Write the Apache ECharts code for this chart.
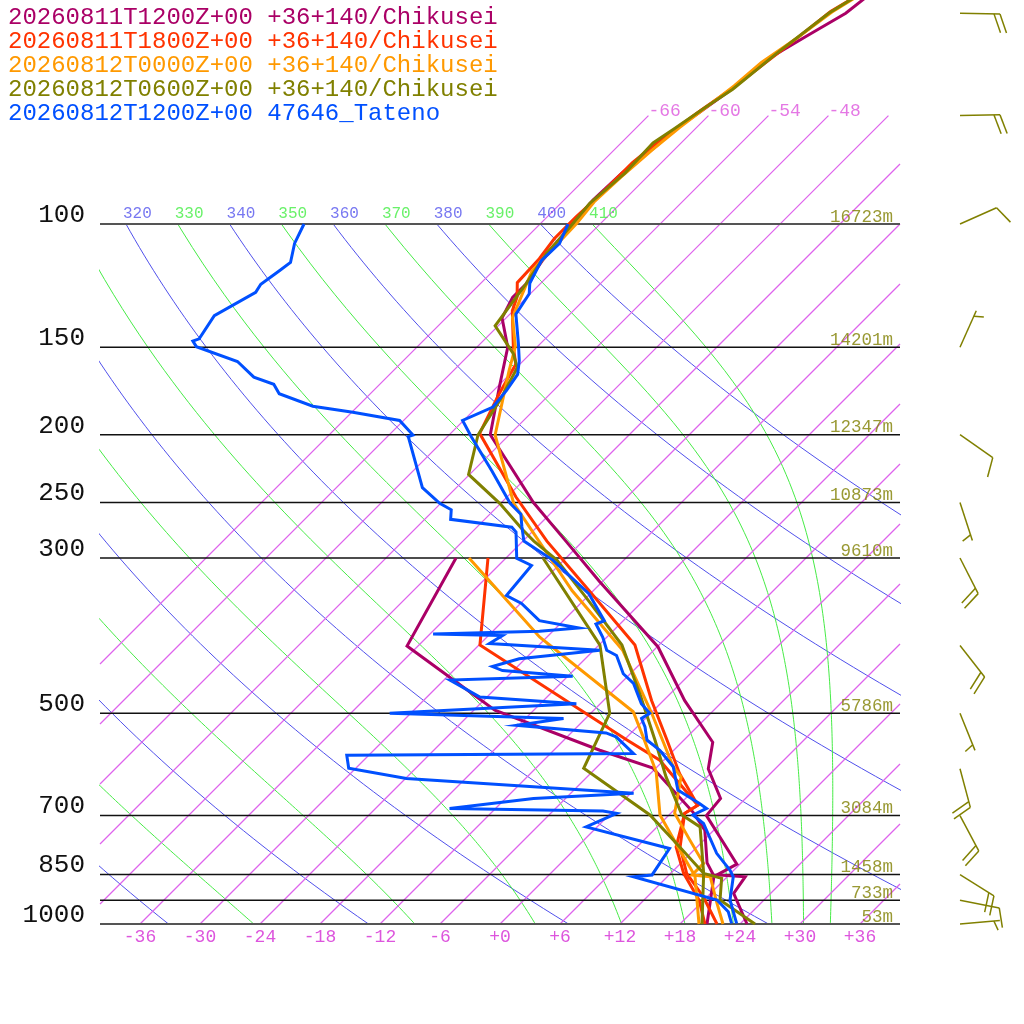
<!DOCTYPE html>
<html><head><meta charset="utf-8">
<script src="https://cdn.jsdelivr.net/npm/echarts@6/dist/echarts.min.js"></script>
<style>html,body{margin:0;padding:0;background:#fff}#c{width:1024px;height:1024px}</style>
</head><body><div id="c"></div>
<script>
const FONT = "'Liberation Mono', 'DejaVu Sans Mono', monospace";

// ---- legend / runs ----
const runLabels = [
  '20260811T1200Z+00 +36+140/Chikusei',
  '20260811T1800Z+00 +36+140/Chikusei',
  '20260812T0000Z+00 +36+140/Chikusei',
  '20260812T0600Z+00 +36+140/Chikusei',
  '20260812T1200Z+00 47646_Tateno'
];
const runColors = ['#aa0066', '#ff3300', '#ff9900', '#808000', '#0050ff'];

// ---- axes / background ----
const isobarLevels = [100, 150, 200, 250, 300, 500, 700, 850, 925, 1000];
const isobarHeights = ['16723m', '14201m', '12347m', '10873m', '9610m', '5786m', '3084m', '1458m', '733m', '53m'];
const xTickLabels = [-36, -30, -24, -18, -12, -6, 0, 6, 12, 18, 24, 30, 36];
const isotherms = [-66, -60, -54, -48, -42, -36, -30, -24, -18, -12, -6, 0, 6, 12, 18, 24, 30, 36];
const labeledIsotherms = [-66, -60, -54, -48];
const dryThetas = [240, 260, 280, 300, 320, 340, 360, 380, 400];
const moistThetas = [250, 270, 290, 310, 330, 350, 370, 390, 410];
const adiabatLabels = [320, 330, 340, 350, 360, 370, 380, 390, 400, 410];

// ---- soundings (pressure hPa, temperature degC) ----
const a_T_p = [40, 50, 53.3, 56.4, 58.8, 64.1, 69.2, 73, 77.7, 84.6, 92.4, 100, 112.8, 121.8, 127.3, 136.2, 150, 171.4, 200, 250, 283.8, 323.5, 402, 479.3, 550, 600, 661.7, 700, 821.2, 851, 856, 904, 1000];
const a_T   = [-54.7, -56.5, -57.9, -59.1, -59.9, -60.3, -61.2, -61.9, -62.2, -62.9, -63.1, -62.8, -62.1, -61.4, -61.4, -60.4, -56.9, -53.7, -49.9, -38.8, -31.7, -24.4, -11.9, -3.9, 3.1, 5.3, 9.5, 9.8, 17.7, 16.8, 19.8, 20.3, 24.7];
const a_Td_p = [300, 400.7, 494.9, 564.6, 598.7, 692, 734.5, 818, 854, 1000];
const a_Td   = [-41.0, -37.1, -21.9, -7.4, -0.3, 8.1, 11.1, 14.6, 16.6, 20.7];

const b_T_p = [40, 49.7, 55.8, 63.9, 68.9, 76, 81.7, 91, 97.7, 104.9, 112.1, 121.3, 127.1, 133, 149.7, 158.6, 174.8, 199.1, 245.5, 283.8, 334.2, 399.5, 479.3, 546, 609.5, 676.5, 694.9, 775.9, 846.5, 914.2, 1000];
const b_T   = [-53.6, -58.2, -59.1, -60.3, -61.3, -62.4, -62.9, -62.9, -63.1, -63.1, -62.6, -62.4, -61.0, -60.1, -56.4, -54.4, -53.1, -51.1, -41.1, -33.6, -24.4, -14.4, -7.2, -1.7, 2.9, 7.9, 7.4, 10.3, 13.6, 17.6, 21.7];
const b_Td_p = [300, 399.5, 546, 583.5, 676.5, 694.9, 776, 846.5, 924, 1000];
const b_Td   = [-37.8, -29.9, -5.7, -0.4, 7.9, 7.4, 9.9, 13.3, 17.5, 20.5];

const c_T_p = [40, 49.8, 54.3, 58.8, 63.5, 69.2, 72.8, 78.4, 85.7, 93, 99.8, 116.7, 136, 149.7, 162.2, 200.1, 250.6, 283.8, 334.2, 406.4, 500, 596.2, 616.5, 694.9, 758.9, 819.3, 851, 856, 924, 1000];
const c_T   = [-53.9, -58.0, -58.9, -60.0, -60.4, -61.2, -61.7, -62.2, -62.6, -62.8, -62.4, -62.1, -59.4, -56.2, -54.4, -49.4, -40.7, -34.4, -26.1, -15.1, -5.9, 1.6, 3.4, 6.4, 10.6, 14.3, 14.3, 16.3, 19.2, 22.3];
const c_Td_p = [300, 389.3, 497.5, 540.3, 606.2, 698.7, 784.3, 854, 1000];
const c_Td   = [-39.7, -24.7, -7.9, -4.4, 0.4, 5.1, 10.6, 14.7, 19.9];

const d_T_p = [40, 50, 57.1, 64.2, 68.0, 73.1, 76.6, 84.5, 93.4, 100.9, 110.2, 121.9, 139.8, 153.2, 160.5, 178.4, 200.2, 227.9, 250.6, 273.2, 283.8, 302.1, 341.3, 399.5, 474.1, 546, 616.5, 698.7, 726.6, 846.5, 860.6, 924, 1000];
const d_T   = [-54.0, -58.2, -59.4, -60.2, -61.1, -62.1, -62.8, -62.6, -63.1, -62.7, -62.4, -61.4, -60.3, -55.7, -53.9, -52.4, -51.1, -48.1, -42.1, -37.2, -34.9, -30.7, -24.1, -15.7, -8.6, -2.9, 1.9, 7.3, 10.3, 15.3, 17.6, 19.6, 25.5];
const d_Td_p = [300, 399.5, 500, 599.2, 698.7, 767.3, 846.5, 1000];
const d_Td   = [-32.3, -17.9, -10.1, -7.2, 4.1, 9.6, 15.3, 20.2];

const e_T_p = [100, 106.6, 112.8, 121.5, 125.8, 134.5, 148.2, 156.8, 164, 173, 182.6, 190.8, 201.3, 225.4, 250.4, 259.7, 270.2, 283.8, 302.1, 337.7, 368.7, 372.8, 389.3, 406.4, 413.4, 439, 453.3, 484.4, 500, 508.6, 523.1, 546, 564.6, 596.2, 643.8, 672.8, 683.8, 698.7, 718.4, 792.6, 837.5, 856, 924, 998];
const e_T   = [-63.2, -62.1, -62.2, -61.1, -60.1, -59.4, -56.2, -54.4, -53.2, -52.7, -52.4, -54.1, -51.6, -46.1, -41.1, -38.9, -37.6, -35.9, -31.1, -24.1, -19.9, -20.4, -18.4, -16.7, -15.2, -12.7, -10.7, -7.9, -6.1, -6.4, -5.2, -3.7, -1.4, 1.6, 4.4, 7.9, 9.1, 8.4, 10.3, 14.6, 17.6, 18.6, 20.6, 23.6];
const e_Td_p = [100, 106.6, 113.5, 116.7, 121.9, 125.2, 135.2, 145.9, 147, 149.7, 157.2, 165.5, 169.4, 174.8, 182.1, 185.7, 190.8, 200.2, 201.3, 238, 250.6, 256, 264.2, 271.1, 275.4, 300.3, 307.5, 339.5, 348.4, 368.7, 377.7, 381.9, 385.1, 387.2, 397.4, 406.4, 418, 428.8, 434.4, 442.7, 448.3, 474.1, 484.4, 500, 508.6, 520.2, 533.4, 540.3, 570.8, 574, 599.2, 619.8, 650.7, 661.7, 683.8, 689.8, 694.9, 726.6, 780, 851, 856, 924, 960.4, 998];
const e_Td   = [-89.6, -88.6, -87.1, -87.4, -87.9, -87.6, -89.4, -88.6, -89.0, -88.1, -82.5, -79.3, -76.6, -75.1, -70.5, -65.9, -60.4, -57.6, -57.9, -51.4, -48.1, -46.3, -45.4, -38.5, -37.6, -34.9, -32.7, -32.2, -29.9, -26.4, -21.7, -25.3, -35.7, -28.6, -29.1, -17.4, -24.6, -26.5, -25.1, -17.5, -29.4, -24.7, -14.4, -32.1, -14.2, -18.2, -8.5, -7.1, -3.7, -32.2, -30.7, -23.9, 0.3, -9.2, -16.6, -1.0, 0.6, -1.1, 9.4, 10.3, 8.6, 19.3, 21.6, 23.1];

// ---- winds (olive barbs, knots) ----
const windP   = [50, 70, 100, 150, 200, 250, 300, 400, 500, 600, 700, 850, 925, 1000];
const windDir = [91, 89, 66, 24, 125, 162, 153, 142, 158, 165, 152, 122, 101, 85];
const windSpd = [20, 20, 10, 5, 10, 5, 20, 20, 5, 20, 20, 20, 10, 5];

// ---- geometry helpers ----
const SKEW = 70;            // degC of skew per decade of pressure
const K = 0.2857;
const yMin = 3 - 924 / 700; // log10(p) at the top edge
const lg = Math.log10;
const ISO_TOP = 70;         // isotherms end at 70 hPa
function skewX(T, p) { return T + SKEW * lg(1000 / p); }
function profile(ps, ts) { return ps.map((p, i) => [skewX(ts[i], p), lg(p)]); }

function esat(Tc) { return 6.112 * Math.exp(17.67 * Tc / (Tc + 243.5)); }
function moistLapse(p, Tk) {
  const Tc = Tk - 273.15, es = esat(Tc), rs = 0.622 * es / Math.max(p - es, 1e-6);
  const Lv = 2.501e6, Rd = 287.04, cp = 1005.7;
  return (Rd * Tk + Lv * rs) / (cp + Lv * Lv * rs * 0.622 / (Rd * Tk * Tk)) / p;
}
function dryLine(theta) {
  const pts = [];
  for (let i = 0; i <= 90; i++) {
    const p = 100 * Math.pow(10, i / 90);
    pts.push([skewX(theta * Math.pow(p / 1000, K) - 273.15, p), lg(p)]);
  }
  return pts;
}
function moistLine(theta) {
  const pts = [];
  let p = 100, T = theta * Math.pow(0.1, K);
  const dp = 2;
  pts.push([skewX(T - 273.15, p), lg(p)]);
  while (p < 1000 - 1e-9) {
    const k1 = moistLapse(p, T), k2 = moistLapse(p + dp / 2, T + k1 * dp / 2);
    const k3 = moistLapse(p + dp / 2, T + k2 * dp / 2), k4 = moistLapse(p + dp, T + k3 * dp);
    T += dp * (k1 + 2 * k2 + 2 * k3 + k4) / 6; p += dp;
    if (Math.round(p) % 6 === 0 || p >= 1000) pts.push([skewX(T - 273.15, p), lg(p)]);
  }
  return pts;
}
function isothermLine(T) {
  let lp0 = 3, x0 = T;
  let lp1 = lg(ISO_TOP), x1 = T + SKEW * (3 - lp1);
  if (x0 < -40) { lp0 = 3 - (-40 - T) / SKEW; x0 = -40; }
  if (x1 > 40) { lp1 = 3 - (40 - T) / SKEW; x1 = 40; }
  return [[x0, lp0], [x1, lp1]];
}

const series = [];
function bgLine(data, color, width, z) {
  series.push({ type: 'line', data, showSymbol: false, symbol: 'none', silent: true, clip: true, z: z || 1,
    color: color, itemStyle: { color: color },
    lineStyle: { color: color, width: width, opacity: 1 }, animation: false });
}
dryThetas.forEach(th => bgLine(dryLine(th), 'rgb(80,80,235)', 1));
moistThetas.forEach(th => bgLine(moistLine(th), 'rgb(70,235,70)', 1));
isotherms.forEach(T => bgLine(isothermLine(T), 'rgb(222,100,236)', 1.2, 1.5));
isobarLevels.forEach(p => bgLine([[-40, lg(p)], [40, lg(p)]], (p === 100 || p === 1000) ? 'rgb(85,85,85)' : 'rgb(17,17,17)', (p === 100 || p === 1000) ? 2 : 1.5, 2));

const profiles = [
  [a_T_p, a_T, a_Td_p, a_Td], [b_T_p, b_T, b_Td_p, b_Td], [c_T_p, c_T, c_Td_p, c_Td],
  [d_T_p, d_T, d_Td_p, d_Td], [e_T_p, e_T, e_Td_p, e_Td]
];
profiles.forEach((pr, i) => {
  [[pr[2], pr[3]], [pr[0], pr[1]]].forEach(([ps, ts]) => {
    series.push({ type: 'line', name: runLabels[i], data: profile(ps, ts), showSymbol: false, symbol: 'none', clip: true,
      silent: true, z: 3 + i * 0.1, color: runColors[i], itemStyle: { color: runColors[i] },
      lineStyle: { color: runColors[i], width: 3, join: 'miter' }, animation: false });
  });
});

function labelSeries(items, labelOpt) {
  series.push({ type: 'scatter', symbol: 'circle', symbolSize: 0.1, silent: true, z: 5, animation: false,
    itemStyle: { color: 'transparent' }, data: items,
    label: Object.assign({ show: true, formatter: '{b}', fontFamily: FONT }, labelOpt) });
}
labelSeries(labeledIsotherms.map(T => ({ name: String(T), value: [skewX(T, ISO_TOP), lg(ISO_TOP)] })),
  { position: [0, 5], align: 'left', verticalAlign: 'bottom', color: '#dd55dd', fontSize: 18 });
labelSeries(adiabatLabels.map(th => ({ name: String(th), value: [skewX(th * Math.pow(0.1, K) - 273.15, 100), 2],
  label: { color: th % 20 === 0 ? '#5555ee' : '#44ee44' } })),
  { position: [-3, -2], align: 'left', verticalAlign: 'bottom', fontSize: 16 });
labelSeries(isobarLevels.map((p, i) => ({ name: isobarHeights[i], value: [40, lg(p)] })),
  { position: [-7, 2], align: 'right', verticalAlign: 'bottom', color: '#808000', fontSize: 17.5 });

series.push({
  type: 'custom', xAxisIndex: 1, yAxisIndex: 1, silent: true, z: 4, animation: false,
  data: windP.map((p, i) => [0, lg(p), windDir[i], windSpd[i]]),
  encode: { x: 0, y: 1 },
  renderItem: function (params, api) {
    const pt = api.coord([0, api.value(1)]);
    const rad = api.value(2) * Math.PI / 180, spd = api.value(3);
    const vx = Math.sin(rad), vy = -Math.cos(rad);
    const L = 40, a = 70 * Math.PI / 180;
    const fx = vx * Math.cos(a) - vy * Math.sin(a), fy = vx * Math.sin(a) + vy * Math.cos(a);
    const st = { stroke: '#808000', lineWidth: 1.5 };
    const ch = [{ type: 'line', shape: { x1: pt[0], y1: pt[1], x2: pt[0] + L * vx, y2: pt[1] + L * vy }, style: st }];
    const n10 = Math.floor(spd / 10), n5 = (spd % 10) >= 5 ? 1 : 0;
    let idx = 0;
    for (let k = 0; k < n10; k++, idx++) {
      const d = L - idx * 6, bx = pt[0] + d * vx, by = pt[1] + d * vy;
      ch.push({ type: 'line', shape: { x1: bx, y1: by, x2: bx + 20 * fx, y2: by + 20 * fy }, style: st });
    }
    if (n5) {
      if (idx === 0) idx = 1;
      const d = L - idx * 6, bx = pt[0] + d * vx, by = pt[1] + d * vy;
      ch.push({ type: 'line', shape: { x1: bx, y1: by, x2: bx + 10 * fx, y2: by + 10 * fy }, style: st });
    }
    return { type: 'group', children: ch };
  }
});

const rich = {};
runLabels.forEach((s, i) => { rich['s' + i] = { color: runColors[i], fontSize: 24, lineHeight: 24, fontFamily: FONT, fontWeight: 'normal' }; });

const chart = echarts.init(document.getElementById('c'), null, { renderer: 'canvas' });
chart.setOption({
  animation: false,
  backgroundColor: '#fff',
  title: { left: 8, top: 6, padding: 0, text: runLabels.map((s, i) => '{s' + i + '|' + s + '}').join('\n'),
    textStyle: { rich, fontWeight: 'normal', fontFamily: FONT, fontSize: 24, lineHeight: 24 } },
  grid: [{ left: 100, top: 0, width: 800, height: 924, containLabel: false },
         { left: 960, top: 0, width: 40, height: 924, containLabel: false }],
  xAxis: [{
    type: 'value', min: -40, max: 40, axisLine: { show: false }, axisTick: { show: false }, splitLine: { show: false },
    axisLabel: { customValues: xTickLabels, margin: 4, color: '#dd55dd', fontSize: 18, fontFamily: FONT,
      formatter: v => (v >= 0 ? '+' + v : String(v)) }
  }, { gridIndex: 1, type: 'value', min: 0, max: 1, show: false }],
  yAxis: [{
    type: 'value', inverse: true, min: yMin, max: 3, axisLine: { show: false }, axisTick: { show: false }, splitLine: { show: false },
    axisLabel: { customValues: isobarLevels.map(lg), margin: 15, color: '#111', fontSize: 26, fontFamily: FONT,
      verticalAlign: 'bottom', lineHeight: 18, showMinLabel: true, showMaxLabel: true,
      formatter: v => String(Math.round(Math.pow(10, v))) }
  }, { gridIndex: 1, type: 'value', inverse: true, min: yMin, max: 3, show: false }],
  series
});
</script></body></html>
